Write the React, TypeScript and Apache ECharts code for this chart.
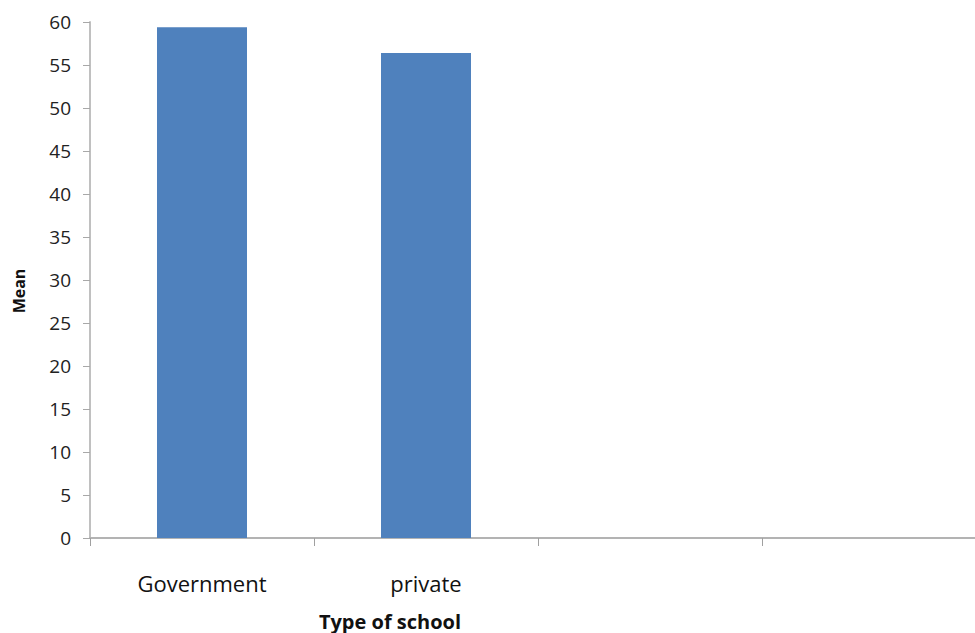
import React, { useEffect, useRef } from "react";
import * as echarts from "echarts";

const categories = ["Government", "private", "", ""];
const meanValues = [59.4, 56.4, null, null];
const yTicks = { min: 0, max: 60, interval: 5 };
const xTitle = "Type of school";
const yTitle = "Mean";

export default function App() {
  const ref = useRef<HTMLDivElement>(null);
  useEffect(() => {
    if (!ref.current) return;
    const chart = echarts.init(ref.current, null, { renderer: "svg" });
    const font = "'Open Sans', 'Noto Sans', sans-serif";
    chart.setOption({
      animation: false,
      backgroundColor: "#ffffff",
      grid: { left: 90, top: 22, width: 896, height: 516, containLabel: false },
      xAxis: {
        type: "category",
        data: categories,
        axisLine: { lineStyle: { color: "#b3b3b3", width: 2 } },
        axisTick: { show: true, length: 8, lineStyle: { color: "#a0a0a0", width: 1 } },
        axisLabel: { color: "#111", fontSize: 22, fontFamily: font, margin: 34 },
      },
      yAxis: {
        type: "value",
        min: yTicks.min,
        max: yTicks.max,
        interval: yTicks.interval,
        axisLine: { show: true, lineStyle: { color: "#c0c0c0", width: 2 } },
        axisTick: { show: true, length: 7, lineStyle: { color: "#a8a8a8" } },
        splitLine: { show: false },
        axisLabel: { color: "#222", fontSize: 19, fontFamily: font, margin: 19 },
      },
      series: [
        {
          type: "bar",
          data: meanValues,
          barWidth: 90,
          itemStyle: { color: "#4f81bd" },
        },
      ],
      graphic: [
        {
          type: "text",
          x: 390,
          y: 621,
          style: { text: xTitle, font: `bold 20px ${font}`, fill: "#111", textAlign: "center", textVerticalAlign: "middle" },
        },
        {
          type: "text",
          x: 19,
          y: 291,
          rotation: Math.PI / 2,
          style: { text: yTitle, font: `bold 16px ${font}`, fill: "#111", textAlign: "center", textVerticalAlign: "middle" },
        },
      ],
    });
    return () => chart.dispose();
  }, []);
  return (
    <div style={{ position: "absolute", left: 0, top: 0, width: 975, height: 633, overflow: "hidden" }}>
      <div ref={ref} style={{ width: 1000, height: 633 }} />
    </div>
  );
}
